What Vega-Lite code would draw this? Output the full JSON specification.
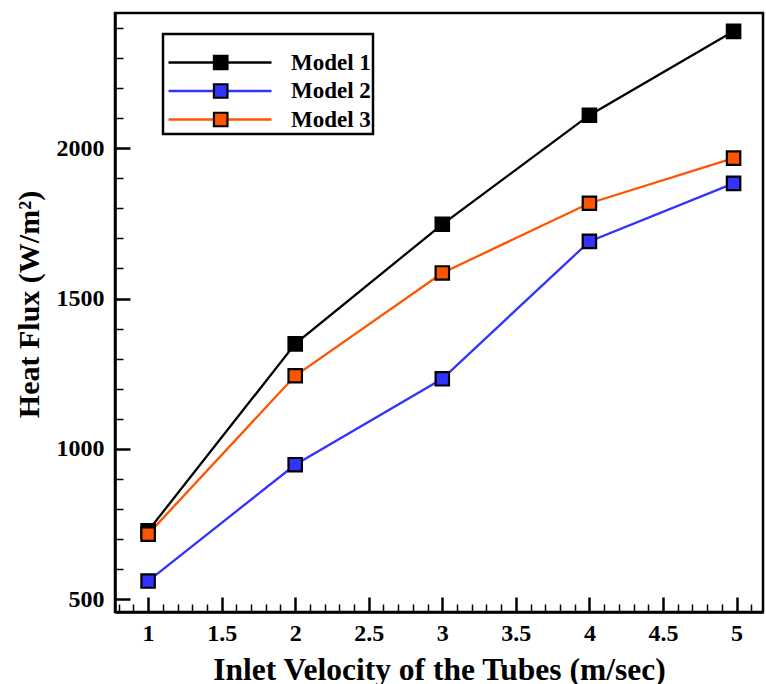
{
  "$schema": "https://vega.github.io/schema/vega-lite/v6.json",
  "width": 648,
  "height": 599,
  "autosize": "none",
  "padding": {"left": 115, "top": 13, "right": 3, "bottom": 72},
  "background": "white",
  "config": {
    "view": {"stroke": "black", "strokeWidth": 2.5},
    "font": "Liberation Serif",
    "axis": {
      "labelFont": "Liberation Serif",
      "labelFontWeight": "bold",
      "labelColor": "black",
      "titleFont": "Liberation Serif",
      "titleFontWeight": "bold",
      "titleColor": "black",
      "domainColor": "black",
      "tickColor": "black",
      "grid": false
    },
    "legend": {
      "labelFont": "Liberation Serif",
      "labelFontWeight": "bold",
      "labelColor": "black",
      "titleFont": "Liberation Serif",
      "titleFontSize": 7,
      "titlePadding": 5
    }
  },
  "data": {
    "values": [
      {"v": 1, "hf": 727, "Model": "Model 1"},
      {"v": 2, "hf": 1349, "Model": "Model 1"},
      {"v": 3, "hf": 1747, "Model": "Model 1"},
      {"v": 4, "hf": 2110, "Model": "Model 1"},
      {"v": 4.98, "hf": 2389, "Model": "Model 1"},
      {"v": 1, "hf": 560, "Model": "Model 2"},
      {"v": 2, "hf": 947, "Model": "Model 2"},
      {"v": 3, "hf": 1233, "Model": "Model 2"},
      {"v": 4, "hf": 1690, "Model": "Model 2"},
      {"v": 4.98, "hf": 1883, "Model": "Model 2"},
      {"v": 1, "hf": 716, "Model": "Model 3"},
      {"v": 2, "hf": 1243, "Model": "Model 3"},
      {"v": 3, "hf": 1585, "Model": "Model 3"},
      {"v": 4, "hf": 1817, "Model": "Model 3"},
      {"v": 4.98, "hf": 1967, "Model": "Model 3"}
    ]
  },
  "resolve": {"axis": {"x": "independent", "y": "independent"}},
  "layer": [
    {
      "mark": {"type": "line", "strokeWidth": 2.3, "clip": true},
      "encoding": {
        "x": {
          "field": "v", "type": "quantitative",
          "scale": {"domain": [0.775, 5.18], "nice": false, "zero": false},
          "axis": {
            "orient": "bottom",
            "values": [1, 1.5, 2, 2.5, 3, 3.5, 4, 4.5, 5],
            "labelExpr": "'' + datum.value",
            "tickSize": -15, "tickWidth": 2.5, "domainWidth": 2.5,
            "labelFontSize": 24, "labelPadding": 24,
            "title": "Inlet Velocity of the Tubes (m/sec)",
            "titleFontSize": 31.5, "titlePadding": 9
          }
        },
        "y": {
          "field": "hf", "type": "quantitative",
          "scale": {"domain": [457, 2450], "nice": false, "zero": false},
          "axis": {
            "orient": "left",
            "values": [500, 1000, 1500, 2000],
            "format": "d",
            "tickSize": -15, "tickWidth": 2.5, "domainWidth": 2.5,
            "labelFontSize": 24, "labelPadding": 26,
            "title": "Heat Flux (W/m²)",
            "titleFontSize": 30, "titlePadding": 12,
            "titleY": 291
          }
        },
        "stroke": {
          "field": "Model", "type": "nominal",
          "scale": {"domain": ["Model 1", "Model 2", "Model 3"], "range": ["#000000", "#3333ff", "#ff5500"]},
          "legend": {
            "orient": "none", "legendX": 48, "legendY": 21,
            "title": " ",
            "symbolType": "M-0.845,0H7.08",
            "symbolSize": 676,
            "symbolStrokeWidth": 2.3,
            "labelFontSize": 23,
            "labelOffset": 97,
            "rowPadding": 1.5,
            "padding": 2,
            "strokeColor": "black",
            "fillColor": "white",
            "encode": {
              "legend": {"update": {"strokeWidth": {"value": 2.5}}}
            }
          }
        }
      }
    },
    {
      "mark": {"type": "point", "shape": "square", "filled": true, "size": 180, "stroke": "black", "strokeWidth": 2.2, "opacity": 1},
      "encoding": {
        "x": {
          "field": "v", "type": "quantitative",
          "axis": {
            "orient": "bottom",
            "values": [0.8, 0.9, 1.1, 1.2, 1.3, 1.4, 1.6, 1.7, 1.8, 1.9, 2.1, 2.2, 2.3, 2.4, 2.6, 2.7, 2.8, 2.9, 3.1, 3.2, 3.3, 3.4, 3.6, 3.7, 3.8, 3.9, 4.1, 4.2, 4.3, 4.4, 4.6, 4.7, 4.8, 4.9, 5.1],
            "labels": false, "domain": false, "title": null,
            "tickSize": -8, "tickWidth": 1.5
          }
        },
        "y": {
          "field": "hf", "type": "quantitative",
          "axis": {
            "orient": "left",
            "values": [600, 700, 800, 900, 1100, 1200, 1300, 1400, 1600, 1700, 1800, 1900, 2100, 2200, 2300, 2400],
            "labels": false, "domain": false, "title": null,
            "tickSize": -8, "tickWidth": 1.5
          }
        },
        "fill": {
          "field": "Model", "type": "nominal",
          "scale": {"range": ["#000000", "#3333ff", "#ff5500"]},
          "legend": {
            "orient": "none", "legendX": 48, "legendY": 21,
            "title": " ",
            "symbolType": "M2.65,-0.52H3.69V0.52H2.65Z",
            "symbolSize": 676,
            "symbolStrokeColor": "black",
            "symbolStrokeWidth": 2.2,
            "symbolOpacity": 1,
            "labelFontSize": 23,
            "labelOffset": 97,
            "labelOpacity": 0,
            "rowPadding": 1.5,
            "padding": 2
          }
        }
      }
    }
  ]
}
